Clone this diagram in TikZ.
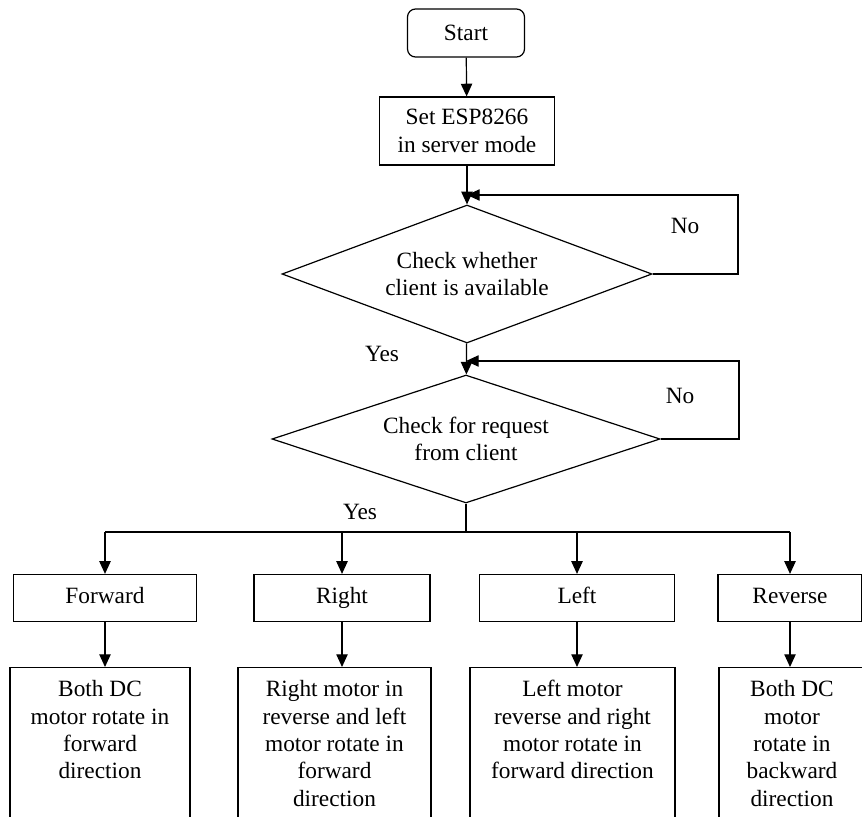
\documentclass[tikz,border=0pt]{standalone}
\usepackage{fontspec}
\setmainfont{Liberation Serif}
\usetikzlibrary{shapes.geometric,arrows.meta}

\newcommand{\acttext}[2]{\parbox[c][112.5pt][t]{#1}{\centering\strut #2}}

\begin{document}
\begin{tikzpicture}[x=0.75pt,y=0.75pt,yscale=-1,xscale=1,
	every node/.style={font=\fontsize{17.5}{20.5}\selectfont},
	procbox/.style={draw,line width=0.9pt,align=center,inner sep=2pt},
	cmdbox/.style={procbox,text height=12pt,text depth=4pt,minimum height=35.25pt},
	actbox/.style={draw,line width=0.9pt,inner xsep=0pt,inner ysep=7.5pt,anchor=north},
	decision/.style={draw,diamond,aspect=2.7,line width=0.9pt,align=center,inner sep=0pt},
	flow/.style={line width=0.9pt,-{Triangle[length=9.5pt,width=8.5pt]}},
	link/.style={line width=0.9pt}]
	
	\useasboundingbox (0,0) rectangle (862,816);
	\clip (0,0) rectangle (862,816);
	
	%Shape: Terminal
	\node [procbox,rounded corners=6pt,minimum width=87.75pt,minimum height=36pt] (start) at (466,33) {Start};
	%Shape: Process
	\node [procbox,minimum width=131.25pt,minimum height=51pt] (setesp) at (467,131) {Set ESP8266\\in server mode};
	%Shape: Decisions
	\node [decision,minimum width=277.5pt,minimum height=103.5pt] (client) at (467,274) {Check whether\\client is available};
	\node [decision,minimum width=291pt,minimum height=96pt] (request) at (466,439) {Check for request\\from client};
	
	%Shape: Commands
	\node [cmdbox,minimum width=137.25pt] (fwd) at (105,598) {Forward};
	\node [cmdbox,minimum width=132pt] (rgt) at (342,598) {Right};
	\node [cmdbox,minimum width=146.25pt] (lft) at (577,598) {Left};
	\node [cmdbox,minimum width=108pt] (rev) at (790,598) {Reverse};
	
	%Shape: Actions
	\node [actbox] (fwdact) at (100,667) {\acttext{135pt}{Both DC\\motor rotate in\\forward\\direction}};
	\node [actbox] (rgtact) at (334.5,667) {\acttext{144.75pt}{Right motor in\\reverse and left\\motor rotate in\\forward\\direction}};
	\node [actbox] (lftact) at (572.5,667) {\acttext{153.75pt}{Left motor\\reverse and right\\motor rotate in\\forward direction}};
	\node [actbox] (revact) at (792,667) {\acttext{109.5pt}{Both DC\\motor\\rotate in\\backward\\direction}};
	
	%Straight Lines
	\draw [flow] (start) -- (setesp);
	\draw [flow] (setesp) -- (client);
	\draw [flow] (client) -- (request);
	
	%Loops back
	\coordinate (noclient) at (738,195);
	\draw [flow] (client.east) -| (noclient) -- (noclient -| client.north);
	\coordinate (norequest) at (739,361);
	\draw [flow] (request.east) -| (norequest) -- (norequest -| request.north);
	
	%Branches
	\coordinate (split) at (466,532);
	\draw [link] (request.south) -- (split);
	\draw [link] (fwd.north |- split) -- (rev.north |- split);
	\foreach \n in {fwd,rgt,lft,rev}
		\draw [flow] (\n.north |- split) -- (\n.north);
	\foreach \a/\b in {fwd/fwdact,rgt/rgtact,lft/lftact,rev/revact}
		\draw [flow] (\a.south) -- (\a.south |- \b.north);
	
	% Text Node
	\node (noa) at (685,226) {No};
	% Text Node
	\node (nob) at (680,396) {No};
	% Text Node
	\node (yesa) at (382,354) {Yes};
	% Text Node
	\node (yesb) at (360,512) {Yes};
	
\end{tikzpicture}
\end{document}
